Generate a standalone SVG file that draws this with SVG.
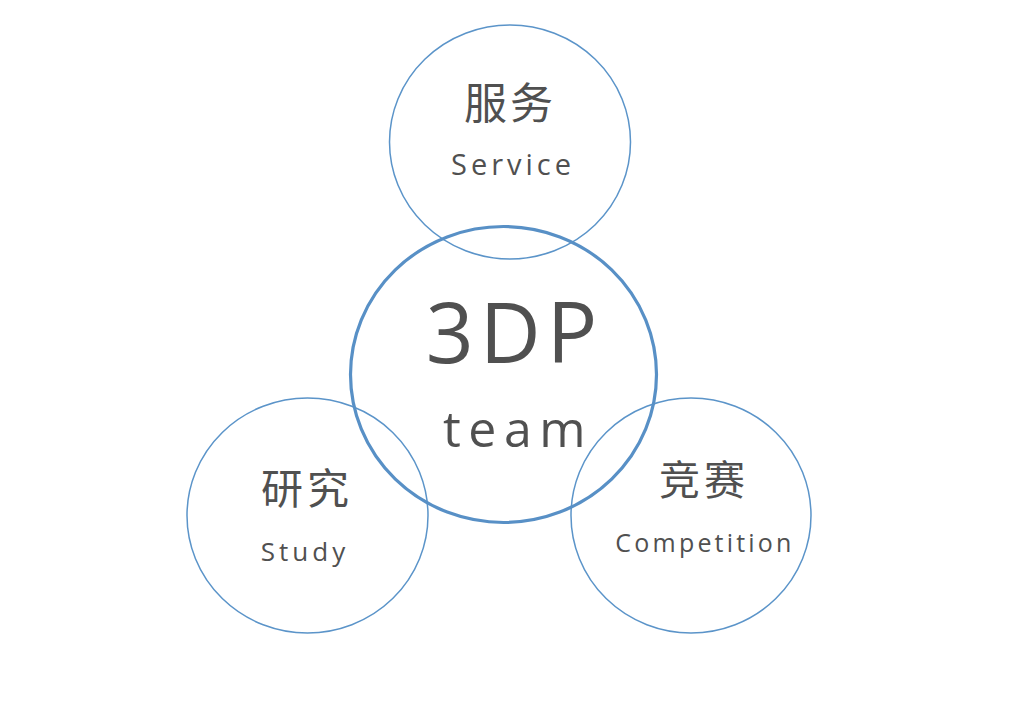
<svg xmlns="http://www.w3.org/2000/svg" width="1024" height="724" viewBox="0 0 1024 724">
<style>
.ring{fill:none;stroke:#5b94c9;stroke-width:1.5}
.main{fill:none;stroke:#5890c6;stroke-width:3.2}
.cn{font-family:"Noto Sans CJK SC","Open Sans",sans-serif;fill:#505050;text-anchor:middle}
.en{font-family:"Open Sans","Noto Sans",sans-serif;fill:#505050;text-anchor:middle}
</style>
<rect width="1024" height="724" fill="#fff"/>
<g id="node-service">
<ellipse class="ring" cx="510" cy="142" rx="120.5" ry="117"/>
<text class="cn" x="510" y="119" font-size="43" letter-spacing="3">服务</text>
<text class="en" x="513" y="175" font-size="29" letter-spacing="4">Service</text>
</g>
<g id="node-study">
<ellipse class="ring" cx="307.5" cy="515.5" rx="120.5" ry="117.5"/>
<text class="cn" x="307" y="504" font-size="42" letter-spacing="4">研究</text>
<text class="en" x="305" y="561" font-size="26" letter-spacing="4">Study</text>
</g>
<g id="node-competition">
<ellipse class="ring" cx="691" cy="515.5" rx="120" ry="117.5"/>
<text class="cn" x="704" y="495" font-size="41" letter-spacing="4">竞赛</text>
<text class="en" x="705" y="552" font-size="25" letter-spacing="3.2">Competition</text>
</g>
<g id="node-team">
<ellipse class="main" cx="503.5" cy="374.5" rx="153" ry="148"/>
<text class="en" x="514.5" y="363" font-size="84" letter-spacing="6">3DP</text>
<text class="en" x="518" y="447" font-size="50" letter-spacing="7.5">team</text>
</g>
<g id="connectors"/>
</svg>
